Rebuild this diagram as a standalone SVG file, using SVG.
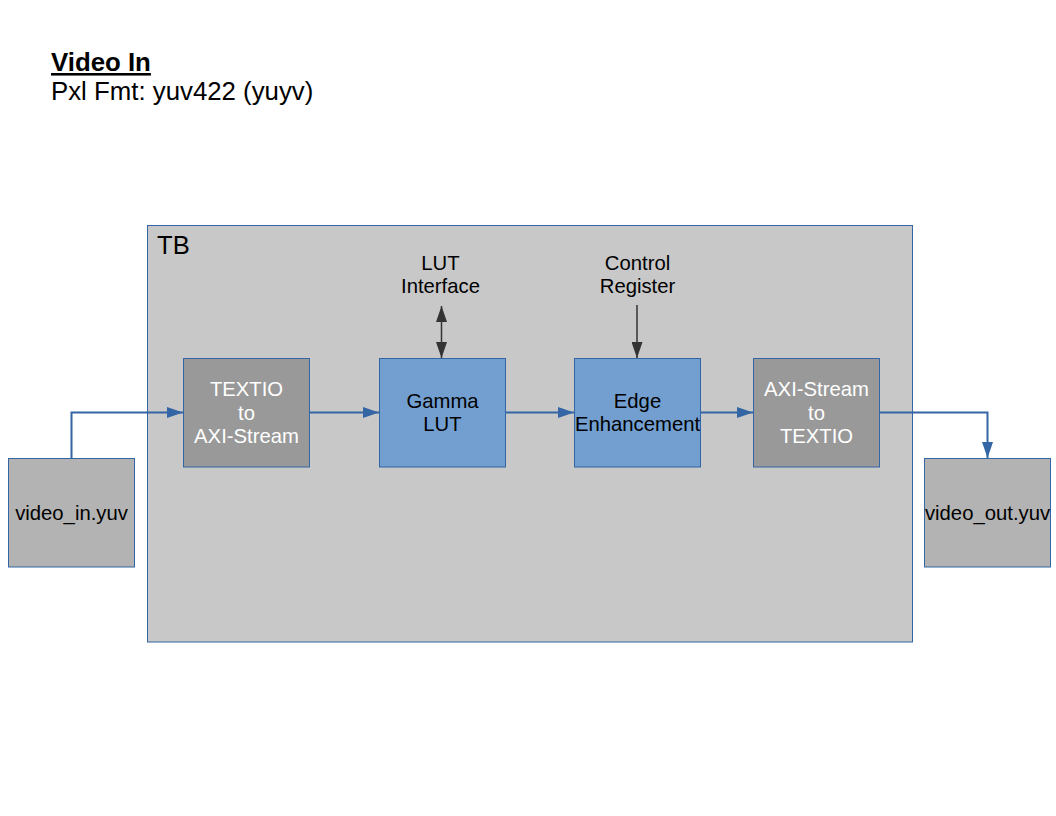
<svg xmlns="http://www.w3.org/2000/svg" width="1056" height="816" viewBox="0 0 1056 816">
<defs>
<marker id="ab" markerWidth="16" markerHeight="11" refX="16" refY="5.5" orient="auto" markerUnits="userSpaceOnUse"><path d="M0,0 L16,5.5 L0,11 Z" fill="#3465a4"/></marker>
<marker id="ad" markerWidth="16" markerHeight="11" refX="16" refY="5.5" orient="auto" markerUnits="userSpaceOnUse"><path d="M0,0 L16,5.5 L0,11 Z" fill="#333333"/></marker>
<marker id="ads" markerWidth="16" markerHeight="11" refX="0" refY="5.5" orient="auto" markerUnits="userSpaceOnUse"><path d="M16,0 L0,5.5 L16,11 Z" fill="#333333"/></marker>
</defs>
<style>
text{font-family:"Liberation Sans",Arial,sans-serif;}
.box{stroke:#3465a4;stroke-width:1;}
.gray{fill:#999999;}
.blue{fill:#729fcf;}
.file{fill:#b3b3b3;}
.t{font-size:20.3px;text-anchor:middle;fill:#000;}
.w{font-size:20.3px;text-anchor:middle;fill:#ffffff;}
.c{fill:none;stroke:#3465a4;stroke-width:2;}
.d{fill:none;stroke:#333333;stroke-width:1.5;}
</style>
<rect width="1056" height="816" fill="#ffffff"/>
<g id="title">
<text x="51" y="71" font-size="25.8" font-weight="bold" text-decoration="underline">Video In</text>
<text x="51" y="100" font-size="25.8">Pxl Fmt: yuv422 (yuyv)</text>
</g>
<g id="tb">
<rect x="147.5" y="225.5" width="765" height="416.5" fill="#c8c8c8" class="box"/>
<text x="157" y="254" font-size="25.6">TB</text>
</g>
<g id="lut_if"><text class="t" x="440.5" y="270">LUT</text><text class="t" x="440.5" y="293">Interface</text></g>
<g id="ctrl_reg"><text class="t" x="637.5" y="270">Control</text><text class="t" x="637.5" y="293">Register</text></g>
<g id="textio2axi">
<rect x="183.5" y="358.5" width="126" height="108.5" class="box gray"/>
<text class="w" x="246.5" y="396">TEXTIO</text><text class="w" x="246.5" y="420">to</text><text class="w" x="246.5" y="443">AXI-Stream</text>
</g>
<g id="gamma">
<rect x="379.5" y="358.5" width="126" height="108.5" class="box blue"/>
<text class="t" x="442.5" y="408">Gamma</text><text class="t" x="442.5" y="431">LUT</text>
</g>
<g id="edge">
<rect x="574.5" y="358.5" width="126" height="108.5" class="box blue"/>
<text class="t" x="637.5" y="408">Edge</text><text class="t" x="637.5" y="431">Enhancement</text>
</g>
<g id="axi2textio">
<rect x="753.5" y="358.5" width="126" height="108.5" class="box gray"/>
<text class="w" x="816.5" y="396">AXI-Stream</text><text class="w" x="816.5" y="420">to</text><text class="w" x="816.5" y="443">TEXTIO</text>
</g>
<g id="video_in">
<rect x="8.5" y="458.5" width="126" height="108.5" class="box file"/>
<text class="t" x="71.5" y="520">video_in.yuv</text>
</g>
<g id="video_out">
<rect x="924.5" y="458.5" width="126" height="108.5" class="box file"/>
<text class="t" x="987.5" y="520">video_out.yuv</text>
</g>
<g id="connectors">
<path class="c" d="M71.5,458 V412.5 H183" marker-end="url(#ab)"/>
<path class="c" d="M310,412.5 H379" marker-end="url(#ab)"/>
<path class="c" d="M506,412.5 H574" marker-end="url(#ab)"/>
<path class="c" d="M701,412.5 H753" marker-end="url(#ab)"/>
<path class="c" d="M880,412.5 H987.5 V458" marker-end="url(#ab)"/>
<path class="d" d="M441.5,306 V358" marker-start="url(#ads)" marker-end="url(#ad)"/>
<path class="d" d="M637,305 V358" marker-end="url(#ad)"/>
</g>
</svg>
